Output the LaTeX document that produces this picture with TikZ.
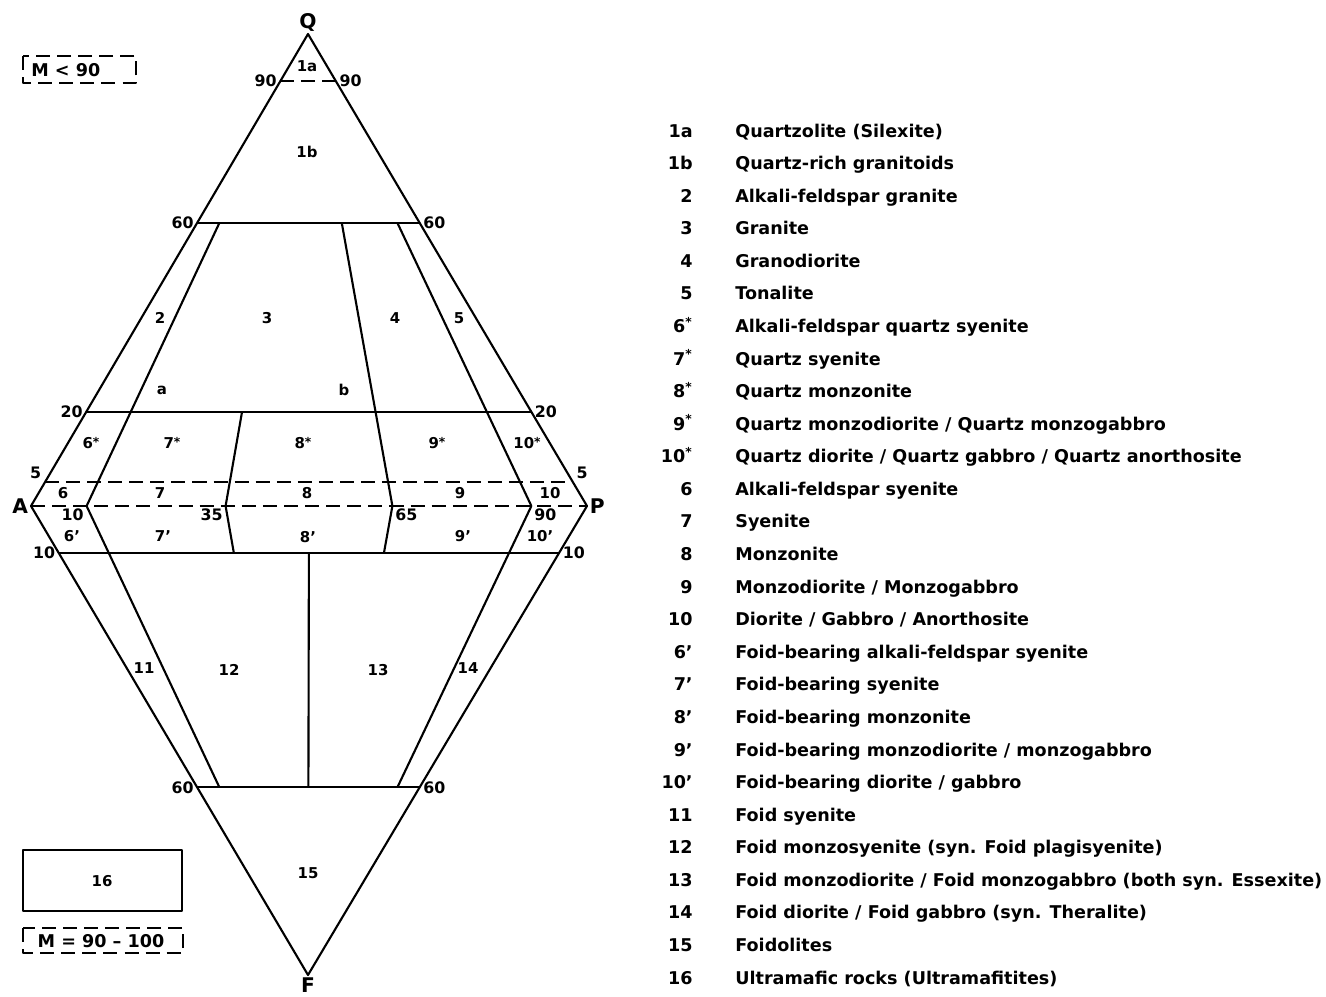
\documentclass[tikz,border=0pt]{standalone}
\usepackage{fontspec}
\setmainfont{DejaVu Sans}
\usetikzlibrary{calc}
\colorlet{lineColor}{black}
\tikzstyle{edge}=[line width=1.2pt, draw=lineColor, line join=round]
\tikzstyle{dline}=[edge, dash pattern=on 8pt off 4pt]
\tikzstyle{vtx}=[font=\fontsize{11.5}{13}\selectfont\bfseries, inner sep=1.5pt]
\tikzstyle{tick}=[font=\fontsize{9}{10}\selectfont\bfseries, inner sep=1.5pt]
\tikzstyle{field}=[font=\fontsize{8.5}{10}\selectfont\bfseries, inner sep=0pt]
\tikzstyle{legnum}=[font=\fontsize{10}{12}\selectfont\bfseries, anchor=base east, inner sep=0pt]
\tikzstyle{legtext}=[font=\fontsize{10}{12}\selectfont\bfseries, anchor=base west, inner sep=0pt]
\newcommand{\st}{\raisebox{.35ex}{\scriptsize *}}

\begin{document}
\begin{tikzpicture}[x=0.2mm, y=-0.2mm]
  \useasboundingbox (0,0) rectangle (1326,997);
  \coordinate (Q) at (308,34);
  \coordinate (A) at (31,506);
  \coordinate (P) at (587,506);
  \coordinate (F) at (308,975);

  % outline and vertices
  \draw [edge] (Q) -- (A) -- (F) -- (P) -- cycle;
  \node (lQ) [vtx, above] at (Q) {Q};
  \node (lA) [vtx, left] at (A) {A};
  \node (lP) [vtx, right] at (P) {P};
  \node (lF) [vtx, below] at (F) {F};

  % horizontal limits
  \draw [dline] ($(A)!0.9!(Q)$) node [tick, left] (q90a) {90} -- ($(P)!0.9!(Q)$) node [tick, right] (q90b) {90};
  \draw [edge] ($(A)!0.6!(Q)$) node [tick, left] (q60a) {60} -- ($(P)!0.6!(Q)$) node [tick, right] (q60b) {60};
  \draw [edge] ($(A)!0.2!(Q)$) node [tick, left] (q20a) {20} -- ($(P)!0.2!(Q)$) node [tick, right] (q20b) {20};
  \draw [dline] ($(A)!0.05!(Q)$) node [tick, above left] (q5a) {5} -- ($(P)!0.05!(Q)$) node [tick, above right] (q5b) {5};
  \draw [dline] (A) -- (P);
  \draw [edge] ($(A)!0.1!(F)$) node [tick, left] (f10a) {10} -- ($(P)!0.1!(F)$) node [tick, right] (f10b) {10};
  \draw [edge] ($(A)!0.6!(F)$) node [tick, left] (f60a) {60} -- ($(P)!0.6!(F)$) node [tick, right] (f60b) {60};

  % dividers
  \foreach \r/\lim in {0.1/0.6, 0.35/0.2, 0.65/0.6, 0.9/0.6}
    \draw [edge] ($(A)!\r!(P)!\lim!(Q)$) -- ($(A)!\r!(P)$);
  \foreach \r/\lim in {0.1/0.6, 0.35/0.1, 0.65/0.1, 0.9/0.6}
    \draw [edge] ($(A)!\r!(P)$) -- ($(A)!\r!(P)!\lim!(F)$);
  \draw [edge] ($(A)!0.5!(P)!0.1!(F)$) -- ($(A)!0.5!(P)!0.6!(F)$);
  \node (r10) [tick, below left] at ($(A)!0.1!(P)$) {10};
  \node (r35) [tick, below left] at ($(A)!0.35!(P)$) {35};
  \node (r65) [tick, below right] at ($(A)!0.65!(P)$) {65};
  \node (r90) [tick, below right] at ($(A)!0.9!(P)$) {90};

  % fields
  \foreach \t/\x/\y [count=\i] in {1a/307/66, 1b/307/152, 2/160/318, 3/267/318,
      4/395/318, 5/459/318, a/162/390, b/344/390,
      {6\st}/91/443, {7\st}/172/443, {8\st}/303/443, {9\st}/437/443,
      {10\st}/527/443,
      6/63/493, 7/160/493, 8/307/493, 9/460/493, 10/550/493,
      6’/72/536, 7’/163/536, 8’/308/537, 9’/463/536, 10’/540/536,
      11/144/668, 12/229/670, 13/378/670, 14/468/668, 15/308/873}
    \node (f\i) [field] at (\x,\y) {\t};

  % mafic boxes
  \draw [edge] (23,850) rectangle (182,911);
  \node (f16) [field] at (102,881) {16};
  \draw [dline] (23,56) rectangle (136,83);
  \node (m90) [legtext, anchor=west] at (31,70) {M < 90};
  \draw [dline] (23,928) rectangle (183,953);
  \node (m100) [legtext, anchor=center] at (101,941) {M = 90 – 100};

  % legend
  \foreach \n/\t [count=\i from 0] in {
      1a/{Quartzolite (Silexite)},
      1b/{Quartz-rich granitoids},
      2/{Alkali-feldspar granite},
      3/{Granite},
      4/{Granodiorite},
      5/{Tonalite},
      {6\textsuperscript{*}}/{Alkali-feldspar quartz syenite},
      {7\textsuperscript{*}}/{Quartz syenite},
      {8\textsuperscript{*}}/{Quartz monzonite},
      {9\textsuperscript{*}}/{Quartz monzodiorite / Quartz monzogabbro},
      {10\textsuperscript{*}}/{Quartz diorite / Quartz gabbro / Quartz anorthosite},
      6/{Alkali-feldspar syenite},
      7/{Syenite},
      8/{Monzonite},
      9/{Monzodiorite / Monzogabbro},
      10/{Diorite / Gabbro / Anorthosite},
      6’/{Foid-bearing alkali-feldspar syenite},
      7’/{Foid-bearing syenite},
      8’/{Foid-bearing monzonite},
      9’/{Foid-bearing monzodiorite / monzogabbro},
      10’/{Foid-bearing diorite / gabbro},
      11/{Foid syenite},
      12/{Foid monzosyenite (syn. Foid plagisyenite)},
      13/{Foid monzodiorite / Foid monzogabbro (both syn. Essexite)},
      14/{Foid diorite / Foid gabbro (syn. Theralite)},
      15/{Foidolites},
      16/{Ultramafic rocks (Ultramafitites)}} {
    \node (n\i) [legnum] at (693,137+32.58*\i) {\n};
    \node (t\i) [legtext] at (735,137+32.58*\i) {\t};
  }
\end{tikzpicture}
\end{document}
